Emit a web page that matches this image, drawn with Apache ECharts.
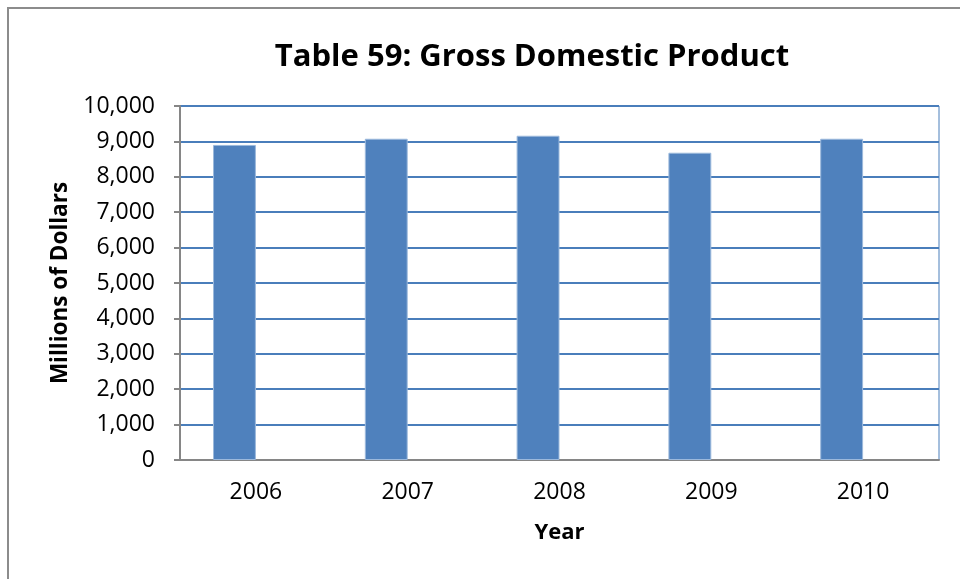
<!DOCTYPE html>
<html>
<head>
<meta charset="utf-8">
<script src="https://cdn.jsdelivr.net/npm/echarts@6/dist/echarts.min.js"></script>
<style>
  html, body { margin: 0; padding: 0; background: #fff; }
  #frame { position: absolute; left: 7px; top: 7px; width: 980px; height: 600px; border: 2px solid #8c8c8c; box-sizing: border-box; }
  #chart { position: absolute; left: 0; top: 0; width: 960px; height: 579px; }
</style>
</head>
<body>
<div id="frame"></div>
<div id="chart"></div>
<script>
(function(){
  'use strict';

  // 数据
  var years = ['2006', '2007', '2008', '2009', '2010'];
  var gdp = [8900, 9075, 9160, 8680, 9075];
  var emptySeries = [null, null, null, null, null];

  var font = '"Open Sans", "Liberation Sans", sans-serif';

  var myChart = echarts.init(document.getElementById('chart'));

  var option = {
    backgroundColor: 'transparent',
    textStyle: { fontFamily: font },
    title: {
      text: 'Table 59: Gross Domestic Product',
      left: 527,
      textAlign: 'center',
      top: 37,
      textStyle: { fontSize: 31, fontWeight: 'bold', color: '#000', fontFamily: font }
    },
    grid: {
      left: 180, right: 21, top: 106, bottom: 119,
      show: true, borderColor: '#4a7ebb', borderWidth: 1
    },
    xAxis: {
      type: 'category',
      data: years,
      name: 'Year',
      nameLocation: 'middle',
      nameGap: 62,
      nameTextStyle: { fontSize: 22, fontWeight: 'bold', color: '#000' },
      axisLine: { lineStyle: { color: '#868686', width: 2 } },
      axisTick: { inside: false, length: 6, lineStyle: { color: '#868686', width: 2 } },
      axisLabel: { fontSize: 23, color: '#000', margin: 21 }
    },
    yAxis: {
      type: 'value',
      min: 0, max: 10000, interval: 1000,
      name: 'Millions of Dollars',
      nameLocation: 'middle',
      nameGap: 108,
      nameTextStyle: { fontSize: 22.5, fontWeight: 'bold', color: '#000' },
      axisLine: { show: true, lineStyle: { color: '#868686', width: 2 } },
      axisTick: { show: true, length: 6, lineStyle: { color: '#868686', width: 2 } },
      axisLabel: {
        fontSize: 23, color: '#000', margin: 25,
        formatter: function (v) { return v.toLocaleString('en-US'); }
      },
      splitLine: { lineStyle: { color: '#4a7ebb', width: 2 } }
    },
    series: [
      {
        name: 'GDP',
        type: 'bar',
        data: gdp,
        barGap: '0%',
        barCategoryGap: '43.5%',
        itemStyle: { color: '#4f81bd', borderColor: '#9cb9dc', borderWidth: 1 }
      },
      {
        name: 'empty',
        type: 'bar',
        data: emptySeries,
        itemStyle: { color: '#c0504d' }
      }
    ]
  };

  myChart.setOption(option);
}());
</script>
</body>
</html>
